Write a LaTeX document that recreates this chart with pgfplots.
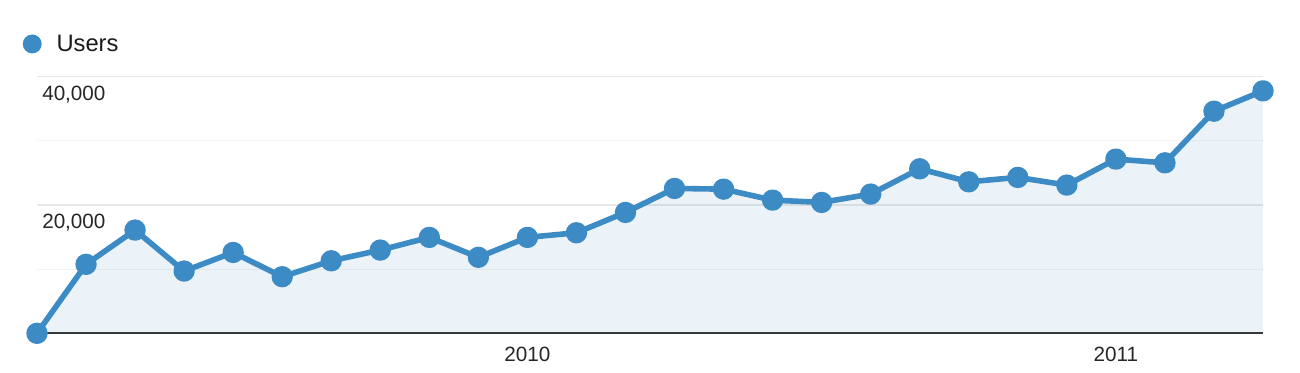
\documentclass[border=0pt]{standalone}
\usepackage{pgfplots}
\pgfplotsset{compat=1.18}
\usepackage{pgfplotstable}
\usepackage{fontspec}
\setmainfont{Liberation Sans}
\definecolor{ga}{RGB}{61,139,196}
\definecolor{gridA}{RGB}{232,232,232}
\definecolor{gridB}{RGB}{243,243,243}
\pgfplotstableread{
x y
0 0
1 10750
2 16090
3 9700
4 12600
5 8820
6 11300
7 12970
8 14950
9 11840
10 14950
11 15670
12 18840
13 22580
14 22470
15 20760
16 20400
17 21700
18 25640
19 23610
20 24300
21 23100
22 27150
23 26570
24 34620
25 37790
}\users
\begin{document}
\begin{tikzpicture}
\path[use as bounding box] (-27.75pt,-29.775pt) rectangle (947.25pt,249.975pt);
\begin{axis}[
 at={(0pt,0pt)}, anchor=south west,
 scale only axis, width=919.5pt, height=192.45pt,
 xmin=0, xmax=25, ymin=0, ymax=40000,
 clip=false,
 axis line style={draw=none},
 xtick={10,22}, xticklabels={2010,2011},
 ytick={20000,40000}, minor ytick={10000,30000},
 scaled y ticks=false,
 ymajorgrids, yminorgrids,
 major grid style={draw=gridA, line width=1.2pt},
 minor grid style={draw=gridB, line width=0.9pt},
 tick style={draw=none}, major tick length=0pt, minor tick length=0pt,
 tick label style={font=\fontsize{15.5}{18}\selectfont, text=black!85},
 yticklabel style={anchor=north west, inner sep=0pt, xshift=3.75pt, yshift=-6.6pt, /pgf/number format/1000 sep={,}, /pgf/number format/assume math mode=true},
 xticklabel style={anchor=north, inner sep=0pt, yshift=-10pt},
 legend style={at={(-0.01183,1.1276)}, anchor=west, draw=none, fill=none, inner sep=0pt, font=\fontsize{17.8}{20}\selectfont, text=black!90, nodes={inner sep=0pt}, column sep=0pt},
 legend image code/.code={\fill[ga, draw=none] (7.1pt,0pt) circle (7.1pt); \path[draw=none, fill=none] (0pt,0pt) -- (25.3pt,0pt);},
]
\draw[draw=black!80, line width=1.5pt] (axis cs:0,0) -- (axis cs:25,0);
\addplot[draw=none, fill=ga, fill opacity=0.1, forget plot] table[x=x,y=y] {\users} \closedcycle;
\addplot[ga, line width=4.2pt, line join=round, mark=*, mark size=5.9pt, mark options={draw=none, fill=ga}] table[x=x,y=y] {\users};
\addlegendentry{Users}
\end{axis}
\end{tikzpicture}
\end{document}
